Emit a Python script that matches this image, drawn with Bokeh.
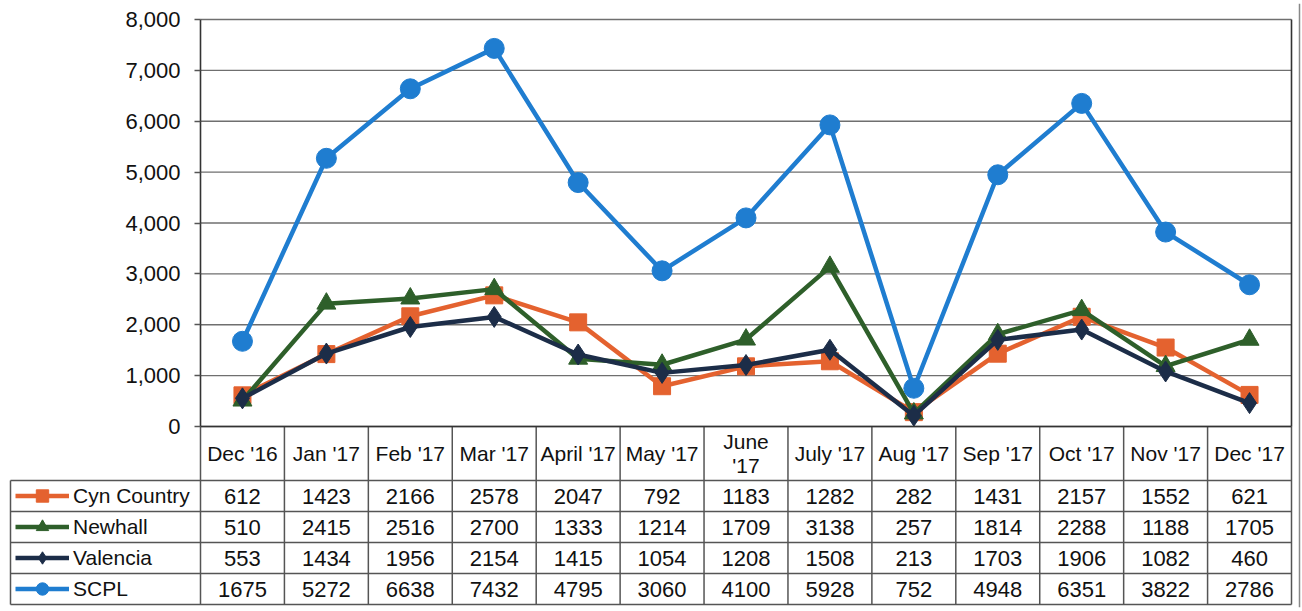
from bokeh.plotting import figure
from bokeh.models import Range1d, FixedTicker, NumeralTickFormatter, Legend, LegendItem
from bokeh.embed import file_html
from bokeh.resources import INLINE
from bokeh.core.properties import value

# ---------------- data ----------------
months = ["Dec '16", "Jan '17", "Feb '17", "Mar '17", "April '17", "May '17",
          "June\n'17", "July '17", "Aug '17", "Sep '17", "Oct '17", "Nov '17", "Dec '17"]
cyn_country = [612, 1423, 2166, 2578, 2047, 792, 1183, 1282, 282, 1431, 2157, 1552, 621]
newhall = [510, 2415, 2516, 2700, 1333, 1214, 1709, 3138, 257, 1814, 2288, 1188, 1705]
valencia = [553, 1434, 1956, 2154, 1415, 1054, 1208, 1508, 213, 1703, 1906, 1082, 460]
scpl = [1675, 5272, 6638, 7432, 4795, 3060, 4100, 5928, 752, 4948, 6351, 3822, 2786]
series_names = ["Cyn Country", "Newhall", "Valencia", "SCPL"]
y_ticks = [0, 1000, 2000, 3000, 4000, 5000, 6000, 7000, 8000]

# ---------------- styles / layout ----------------
FONT = "Liberation Sans"
series = [
    (series_names[0], cyn_country, "#E4622F", "square", 17),
    (series_names[1], newhall, "#2E5F2A", "triangle", 19),
    (series_names[2], valencia, "#1C2D48", "diamond", 21),
    (series_names[3], scpl, "#1F7DD0", "circle", 20),
]
n = len(months)
xs = list(range(n))
nrows = len(series)

W, H = 1302, 611
F_LEFT, F_RIGHT, F_TOP, F_BOTTOM = 8, 1301, 3, 607    # plotting frame (screen px)
AX_X, PLOT_RIGHT, CHART_RIGHT = 200, 1291, 1299        # axis line, plot-area right, chart border
Y_TOP, Y_ZERO, TBL_BOTTOM = 19, 426, 604               # screen y of max tick, zero, table bottom
ROW_PX, HDR_PX = 31, 54
LEG_LEFT = 10

ppx = (PLOT_RIGHT - AX_X) / n                    # px per category
x_start = -0.5 - (AX_X - F_LEFT) / ppx
x_end = n - 0.5 + (F_RIGHT - PLOT_RIGHT) / ppx
ppy = (Y_ZERO - Y_TOP) / y_ticks[-1]             # px per value unit
y_start = -(F_BOTTOM - Y_ZERO) / ppy
y_end = y_ticks[-1] + (Y_TOP - F_TOP) / ppy
HDR = HDR_PX / ROW_PX                            # table units (1 unit = one row)
TB = HDR + nrows
t_start = -(F_BOTTOM - Y_ZERO) / ROW_PX
t_end = (Y_ZERO - F_TOP) / ROW_PX

p = figure(width=W, height=H, x_range=Range1d(x_start, x_end), y_range=Range1d(y_start, y_end),
           output_backend="svg", toolbar_location=None, x_axis_location=None,
           min_border_left=F_LEFT, min_border_right=W - F_RIGHT, min_border_top=F_TOP,
           min_border_bottom=H - F_BOTTOM)
p.extra_y_ranges = {"tbl": Range1d(t_start, t_end)}
p.grid.visible = False
p.outline_line_color = None

ax = p.yaxis[0]
ax.fixed_location = -0.5
ax.ticker = FixedTicker(ticks=y_ticks)
ax.formatter = NumeralTickFormatter(format="0,0")
ax.major_label_text_font = FONT
ax.major_label_text_font_size = "22px"
ax.major_label_text_color = "#111111"
ax.major_tick_out = 6
ax.major_tick_in = 0
ax.minor_tick_out = 0
ax.minor_tick_in = 0
ax.major_label_standoff = 14
ax.axis_line_color = None
ax.major_tick_line_color = "#555555"
ax.major_tick_line_width = 1.4

GRID = "#6f6f6f"
# horizontal gridlines at the y ticks
p.segment(x0=[-0.5] * len(y_ticks), y0=y_ticks, x1=[n - 0.5] * len(y_ticks), y1=y_ticks,
          line_color=GRID, line_width=1.4)
# plot area left (axis line) and right borders
p.segment(x0=[-0.5, n - 0.5], y0=[0, 0], x1=[-0.5, n - 0.5], y1=[y_ticks[-1]] * 2,
          line_color="#333333", line_width=1.6)

legend_items = []
for name, vals, color, marker, size in series:
    lr = p.line(xs, vals, line_color=color, line_width=4.5)
    sr = p.scatter(xs, vals, marker=marker, size=size, fill_color=color, line_color=color)
    legend_items.append(LegendItem(label=name, renderers=[lr, sr]))

# ---------------- data table ----------------
x_leg = -0.5 - (AX_X - LEG_LEFT) / ppx
vx = [-0.5 + k for k in range(n + 1)]
p.segment(x0=vx, y0=[0] * len(vx), x1=vx, y1=[-TB] * len(vx), line_color="#555555", line_width=1.5,
          y_range_name="tbl")
p.segment(x0=[x_leg], y0=[-HDR], x1=[x_leg], y1=[-TB], line_color="#555555", line_width=1.5,
          y_range_name="tbl")
p.segment(x0=[-0.5], y0=[0], x1=[n - 0.5], y1=[0], line_color="#333333", line_width=1.6, y_range_name="tbl")
hy = [-HDR - r for r in range(nrows + 1)]
p.segment(x0=[x_leg] * len(hy), y0=hy, x1=[n - 0.5] * len(hy), y1=hy, line_color="#555555", line_width=1.5,
          y_range_name="tbl")

p.text(x=xs, y=[-HDR / 2] * n, text=months, text_align="center", text_baseline="middle",
       text_font=value(FONT), text_font_size="21px", text_color="#111111", text_line_height=1.05,
       y_range_name="tbl")
for r, (name, vals, color, marker, size) in enumerate(series):
    yc = -HDR - 0.5 - r
    p.text(x=xs, y=[yc] * n, text=[str(v) for v in vals], text_align="center", text_baseline="middle",
           text_font=value(FONT), text_font_size="22px", text_color="#111111", y_range_name="tbl")

# outer chart border on the right
x_cb = n - 0.5 + (CHART_RIGHT - PLOT_RIGHT) / ppx
p.segment(x0=[x_cb], y0=[t_start], x1=[x_cb], y1=[t_end], line_color="#888888", line_width=1.5,
          y_range_name="tbl")

legend = Legend(items=legend_items, location=(LEG_LEFT + 5 - F_LEFT, F_BOTTOM - TBL_BOTTOM),
                orientation="vertical", padding=0, margin=0, spacing=0, glyph_width=54,
                glyph_height=ROW_PX, label_height=ROW_PX, label_standoff=4,
                label_text_font=FONT, label_text_font_size="21px", label_text_color="#111111",
                border_line_color=None, background_fill_alpha=0)
p.add_layout(legend)

open("out.html", "w").write(file_html(p, INLINE))
